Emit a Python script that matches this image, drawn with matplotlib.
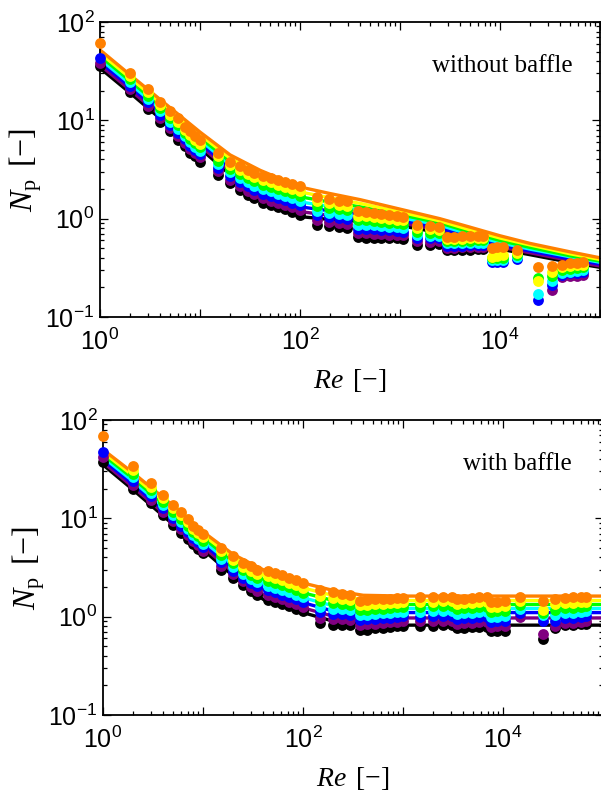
import numpy as np
import matplotlib
matplotlib.use("Agg")
import matplotlib.pyplot as plt
from matplotlib.ticker import LogLocator, FuncFormatter, NullFormatter

plt.rcParams['font.family'] = ['Liberation Sans', 'DejaVu Sans']
plt.rcParams['mathtext.fontset'] = 'custom'
plt.rcParams['mathtext.rm'] = 'Liberation Serif'
plt.rcParams['mathtext.it'] = 'Liberation Serif:italic'
plt.rcParams['mathtext.bf'] = 'Liberation Serif:bold'

nan = np.nan
series_names = ['black', 'purple', 'blue', 'cyan', 'green', 'yellow', 'orange']
series_colors = ['#000000', '#800080', '#0000ff', '#00ffff', '#00ff00', '#ffff00', '#ff8000']

# ---------------- panel 1: without baffle ----------------
top_line_re = [1, 2, 5, 10, 20, 40, 100, 200, 400, 1000, 2500, 5000, 1e4, 2e4, 5e4, 1e5]
top_line_black = [34, 19, 8.6, 5.2, 2.8, 1.63, 1.05, 0.98, 0.94, 0.85, 0.72, 0.58, 0.49, 0.43, 0.36, 0.32]
top_line_purple = [36.5, 20.4, 9.3, 5.55, 3.02, 1.82, 1.18, 1.08, 1.02, 0.91, 0.765, 0.61, 0.515, 0.45, 0.375, 0.33]
top_line_blue = [39.2, 21.9, 10.0, 5.9, 3.26, 2.02, 1.32, 1.20, 1.11, 0.97, 0.81, 0.65, 0.54, 0.47, 0.39, 0.345]
top_line_cyan = [42.1, 23.5, 10.8, 6.3, 3.52, 2.25, 1.48, 1.33, 1.21, 1.03, 0.86, 0.69, 0.57, 0.49, 0.41, 0.36]
top_line_green = [45.1, 25.2, 11.6, 6.7, 3.80, 2.50, 1.67, 1.47, 1.32, 1.10, 0.905, 0.73, 0.60, 0.51, 0.42, 0.37]
top_line_yellow = [48.4, 27.0, 12.5, 7.15, 4.12, 2.79, 1.87, 1.63, 1.43, 1.17, 0.95, 0.77, 0.635, 0.54, 0.44, 0.385]
top_line_orange = [52, 29, 13.5, 7.6, 4.45, 3.1, 2.1, 1.8, 1.56, 1.25, 1.0, 0.82, 0.67, 0.56, 0.46, 0.40]

top_re = [1, 2, 3, 4, 5, 6, 7, 8, 9, 10, 15, 20, 25, 30, 35, 43, 51, 60, 71, 84, 100,
          147, 195, 245, 295, 380, 455, 545, 650, 780, 930, 1080, 1470, 2000, 2450,
          2950, 3500, 4200, 5000, 6000, 6800, 8300, 9400, 10700, 14700, 24000,
          33000, 41700, 50000, 59000, 68000]
top_black = [36, 19.5, 13.0, 9.7, 7.7, 6.3, 5.5, 4.6, 4.3, 3.8, 2.8, 2.3, 1.97, 1.75, 1.62,
             1.45, 1.38, 1.31, 1.24, 1.17, 1.10, 0.87, 0.84, 0.82, 0.81,
             0.65, 0.64, 0.64, 0.63, 0.63, 0.63, 0.62, 0.54, 0.54, 0.55,
             0.48, 0.48, 0.48, 0.48, 0.49, 0.49, nan, nan, nan, nan, nan,
             nan, nan, nan, nan, nan]
top_purple = [38, 21.0, 14.1, 10.5, 8.3, 6.9, 5.9, 5.1, 4.6, 4.2, 3.05, 2.5, 2.16, 1.93, 1.79,
              1.61, 1.53, 1.46, 1.38, 1.31, 1.22, 0.97, 0.93, 0.91, 0.89,
              0.71, 0.71, 0.70, 0.70, 0.69, 0.69, 0.68, 0.59, 0.58, 0.59,
              0.50, 0.50, 0.51, 0.51, 0.51, 0.51, nan, nan, nan, nan, nan,
              0.19, 0.255, 0.26, 0.26, 0.265]
top_blue = [43, 22.6, 15.2, 11.4, 9.0, 7.5, 6.4, 5.5, 5.0, 4.5, 3.3, 2.7, 2.36, 2.13, 1.97,
            1.79, 1.71, 1.62, 1.54, 1.46, 1.37, 1.08, 1.03, 1.01, 0.99,
            0.79, 0.79, 0.78, 0.77, 0.76, 0.75, 0.74, 0.64, 0.63, 0.63,
            0.53, 0.53, 0.53, 0.54, 0.54, 0.54, 0.36, 0.36, 0.36, 0.39, 0.15,
            0.21, 0.27, 0.28, 0.28, 0.285]
top_cyan = [nan, 24.4, 16.4, 12.3, 9.7, 8.2, 6.9, 6.0, 5.4, 4.9, 3.6, 3.0, 2.59, 2.35, 2.17,
            1.99, 1.89, 1.80, 1.71, 1.62, 1.53, 1.21, 1.15, 1.12, 1.10,
            0.87, 0.87, 0.86, 0.84, 0.83, 0.82, 0.81, 0.69, 0.67, 0.67,
            0.56, 0.56, 0.56, 0.56, 0.57, 0.57, 0.38, 0.38, 0.38, 0.41, 0.17,
            0.23, 0.28, 0.29, 0.295, 0.30]
top_green = [nan, 26.4, 17.7, 13.3, 10.5, 8.9, 7.4, 6.5, 5.9, 5.4, 3.9, 3.2, 2.83, 2.59, 2.39,
             2.21, 2.10, 2.0, 1.90, 1.81, 1.71, 1.35, 1.28, 1.25, 1.22,
             0.97, 0.96, 0.95, 0.93, 0.91, 0.90, 0.88, 0.74, 0.72, 0.72,
             0.59, 0.59, 0.59, 0.59, 0.60, 0.60, 0.395, 0.395, 0.395, 0.43, 0.25,
             0.26, 0.30, 0.31, 0.315, 0.32]
top_yellow = [nan, 28.4, 19.2, 14.3, 11.4, 9.7, 8.0, 7.1, 6.3, 5.8, 4.3, 3.5, 3.1, 2.85, 2.64,
              2.46, 2.34, 2.22, 2.11, 2.01, 1.91, 1.51, 1.43, 1.38, 1.35,
              1.07, 1.06, 1.04, 1.02, 1.0, 0.98, 0.96, 0.80, 0.78, 0.77,
              0.62, 0.62, 0.62, 0.63, 0.63, 0.63, 0.41, 0.42, 0.43, 0.45, 0.23,
              0.285, 0.32, 0.33, 0.335, 0.34]
top_orange = [61, 30.6, 20.7, 15.5, 12.3, 10.5, 8.6, 7.7, 6.9, 6.3, 4.6, 3.8, 3.4, 3.14, 2.91,
              2.74, 2.60, 2.47, 2.34, 2.24, 2.14, 1.68, 1.58, 1.53, 1.50,
              1.19, 1.17, 1.15, 1.12, 1.10, 1.07, 1.05, 0.87, 0.84, 0.83,
              0.65, 0.65, 0.66, 0.66, 0.67, 0.67, 0.50, 0.51, 0.52, 0.48, 0.32,
              0.33, 0.34, 0.35, 0.355, 0.36]

# ---------------- panel 2: with baffle ----------------
bot_line_re = [1, 2, 5, 10, 20, 40, 100, 200, 400, 1000, 1e4, 1e5]
bot_line_black = [35, 19.5, 8.7, 4.8, 2.6, 1.5, 1.1, 0.9, 0.84, 0.82, 0.82, 0.82]
bot_line_purple = [37.2, 20.8, 9.4, 5.15, 2.83, 1.68, 1.23, 1.01, 0.98, 0.97, 0.97, 0.97]
bot_line_blue = [39.4, 22.2, 10.1, 5.5, 3.07, 1.89, 1.39, 1.14, 1.11, 1.10, 1.10, 1.10]
bot_line_cyan = [41.9, 23.8, 10.8, 5.9, 3.34, 2.12, 1.56, 1.29, 1.23, 1.21, 1.21, 1.21]
bot_line_green = [44.4, 25.4, 11.7, 6.35, 3.63, 2.38, 1.75, 1.46, 1.36, 1.33, 1.33, 1.33]
bot_line_yellow = [47.1, 27.1, 12.5, 6.8, 3.95, 2.67, 1.96, 1.64, 1.5, 1.46, 1.46, 1.46]
bot_line_orange = [50, 29, 13.5, 7.3, 4.3, 3.0, 2.2, 1.85, 1.65, 1.62, 1.62, 1.62]

bot_re = [1, 2, 3, 4, 5, 6, 7, 8, 9, 10, 15, 20, 25, 30, 35, 45, 53, 62, 72, 85, 100,
          148, 200, 244, 295, 370, 440, 525, 625, 745, 880, 1000, 1480, 2000, 2500, 3060,
          3460, 4100, 4850, 5800, 6900, 7500, 8800, 10500, 14800, 25000,
          33000, 42000, 50000, 60000, 68000]
bot_black = [37, 20.0, 14.3, 10.9, 8.6, 7.1, 6.2, 5.5, 4.9, 4.4, 3.0, 2.5, 2.1, 1.81, 1.67,
             1.49, 1.41, 1.34, 1.27, 1.20, 1.13, 0.86, 0.83, 0.83, 0.83,
             0.73, 0.74, 0.76, 0.77, 0.79, 0.80, 0.81, 0.80, 0.81, 0.82, 0.82,
             0.76, 0.77, 0.78, 0.79, 0.79, 0.71, 0.72, 0.72, nan, 0.59,
             0.77, 0.82, 0.83, 0.84, 0.85]
bot_purple = [42, 21.8, 15.4, 11.7, 9.3, 7.7, 6.7, 5.9, 5.3, 4.7, 3.3, 2.7, 2.3, 1.99, 1.84,
              1.66, 1.58, 1.50, 1.42, 1.34, 1.26, 0.98, 0.94, 0.94, 0.93,
              0.82, 0.84, 0.85, 0.86, 0.88, 0.89, 0.90, 0.90, 0.91, 0.91, 0.91,
              0.85, 0.86, 0.87, 0.88, 0.89, 0.79, 0.80, 0.81, 0.99, 0.67,
              0.80, 0.86, 0.87, 0.89, 0.90]
bot_blue = [47, 23.9, 16.7, 12.7, 10.0, 8.4, 7.2, 6.3, 5.7, 5.1, 3.6, 2.9, 2.5, 2.2, 2.03,
            1.86, 1.77, 1.68, 1.59, 1.50, 1.41, 1.11, 1.07, 1.06, 1.05,
            0.92, 0.94, 0.95, 0.97, 0.98, 1.0, 1.01, 1.0, 1.02, 1.02, 1.02,
            0.95, 0.97, 0.98, 0.99, 1.0, 0.89, 0.90, 0.91, 1.09, 0.90,
            0.91, 0.97, 0.98, 1.0, 1.01]
bot_cyan = [nan, 26.1, 18.0, 13.7, 10.8, 9.1, 7.8, 6.8, 6.1, 5.5, 3.9, 3.2, 2.7, 2.42, 2.24,
            2.07, 1.97, 1.88, 1.78, 1.68, 1.58, 1.26, 1.21, 1.19, 1.17,
            1.04, 1.05, 1.07, 1.08, 1.10, 1.11, 1.12, 1.12, 1.14, 1.14, 1.14,
            1.07, 1.08, 1.10, 1.11, 1.12, 0.99, 1.0, 1.02, 1.20, 1.04,
            1.03, 1.09, 1.10, 1.12, 1.13]
bot_green = [nan, 28.5, 19.5, 14.8, 11.7, 9.9, 8.4, 7.3, 6.6, 5.9, 4.2, 3.5, 3.0, 2.67, 2.47,
             2.31, 2.20, 2.10, 1.99, 1.88, 1.76, 1.44, 1.37, 1.35, 1.32,
             1.16, 1.18, 1.19, 1.21, 1.22, 1.24, 1.25, 1.26, 1.27, 1.28, 1.28,
             1.20, 1.22, 1.23, 1.25, 1.26, 1.11, 1.13, 1.14, 1.32, 1.10,
             1.17, 1.22, 1.23, 1.26, 1.27]
bot_yellow = [nan, 31.2, 21.0, 16.0, 12.7, 10.8, 9.1, 7.8, 7.1, 6.4, 4.6, 3.8, 3.2, 2.94, 2.72,
              2.58, 2.46, 2.35, 2.22, 2.10, 1.97, 1.64, 1.56, 1.52, 1.48,
              1.30, 1.32, 1.34, 1.35, 1.37, 1.39, 1.40, 1.41, 1.42, 1.43, 1.43,
              1.35, 1.37, 1.38, 1.40, 1.41, 1.25, 1.26, 1.28, 1.44, 1.17,
              1.33, 1.38, 1.39, 1.41, 1.42]
bot_orange = [68, 34.1, 22.8, 17.3, 13.7, 11.7, 9.8, 8.4, 7.6, 6.9, 5.05, 4.1, 3.5, 3.24, 3.0,
              2.88, 2.75, 2.63, 2.48, 2.34, 2.2, 1.86, 1.77, 1.71, 1.66,
              1.46, 1.48, 1.50, 1.51, 1.53, 1.55, 1.56, 1.58, 1.58, 1.60, 1.60,
              1.51, 1.53, 1.55, 1.57, 1.58, 1.40, 1.41, 1.43, 1.58, 1.43,
              1.51, 1.55, 1.57, 1.59, 1.60]

panels = [
    dict(line_re=top_line_re,
         lines=[top_line_black, top_line_purple, top_line_blue, top_line_cyan,
                top_line_green, top_line_yellow, top_line_orange],
         re=top_re,
         pts=[top_black, top_purple, top_blue, top_cyan, top_green, top_yellow, top_orange],
         label='without baffle', rect=[100 / 601, 1 - 317 / 796, 500 / 601, 295 / 796],
         text_x=0.946),
    dict(line_re=bot_line_re,
         lines=[bot_line_black, bot_line_purple, bot_line_blue, bot_line_cyan,
                bot_line_green, bot_line_yellow, bot_line_orange],
         re=bot_re,
         pts=[bot_black, bot_purple, bot_blue, bot_cyan, bot_green, bot_yellow, bot_orange],
         label='with baffle', rect=[103 / 601, 1 - 715 / 796, 500 / 601, 295 / 796],
         text_x=0.938),
]


def fmt_x(v, pos):
    e = int(round(np.log10(v)))
    return r'$\mathdefault{10^{%d}}$' % e if e % 2 == 0 else ''


def fmt_y(v, pos):
    e = int(round(np.log10(v)))
    return r'$\mathdefault{10^{%d}}$' % e


fig = plt.figure(figsize=(6.01, 7.96), dpi=100)
for p in panels:
    ax = fig.add_axes(p['rect'])
    ax.set_xscale('log')
    ax.set_yscale('log')
    for vals, col in zip(p['lines'], series_colors):
        ax.plot(p['line_re'], vals, '-', color=col, lw=2.4, zorder=2,
                solid_joinstyle='round')
    for vals, col in zip(p['pts'], series_colors):
        ax.plot(p['re'], vals, 'o', color=col, ms=7.8, mec='none', zorder=3,
                clip_on=False)
    ax.set_xlim(1, 1e5)
    ax.set_ylim(0.1, 100)
    ax.xaxis.set_major_locator(LogLocator(base=10, numticks=10))
    ax.xaxis.set_minor_locator(LogLocator(base=10, subs=np.arange(2, 10), numticks=20))
    ax.yaxis.set_major_locator(LogLocator(base=10, numticks=10))
    ax.yaxis.set_minor_locator(LogLocator(base=10, subs=np.arange(2, 10), numticks=20))
    ax.xaxis.set_major_formatter(FuncFormatter(fmt_x))
    ax.yaxis.set_major_formatter(FuncFormatter(fmt_y))
    ax.xaxis.set_minor_formatter(NullFormatter())
    ax.yaxis.set_minor_formatter(NullFormatter())
    ax.tick_params(which='both', direction='in', top=True, right=True, width=0.9)
    ax.tick_params(which='major', length=5.5, labelsize=18)
    ax.tick_params(axis='x', which='major', pad=8)
    ax.tick_params(axis='y', which='major', pad=4)
    ax.tick_params(which='minor', length=2.8)
    for s in ax.spines.values():
        s.set_linewidth(1.3)
    ax.set_xlabel(r'$Re\enspace[-]$', fontsize=20, labelpad=9)
    ax.set_ylabel(r'$N_\mathrm{p}\enspace[-]$', fontsize=23, labelpad=1)
    ax.text(p['text_x'], 0.8315, p['label'], transform=ax.transAxes, ha='right',
            va='baseline', fontsize=18, family=['Liberation Serif', 'DejaVu Serif'])

fig.savefig('out.png', dpi=100)
